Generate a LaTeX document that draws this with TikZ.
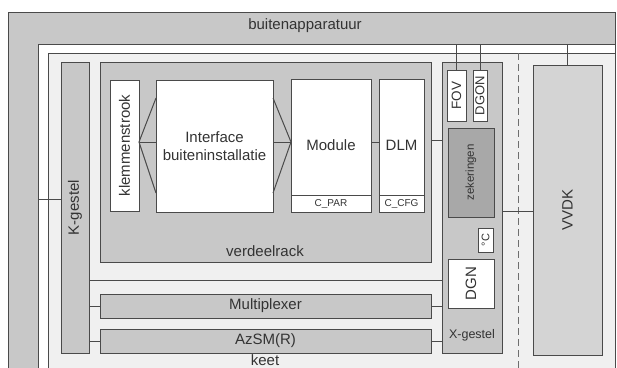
\documentclass[tikz,border=0pt]{standalone}
\usepackage{fontspec}
\setmainfont{Liberation Sans}
\usetikzlibrary{positioning,calc}
\definecolor{rackc}{HTML}{C8C8C8}
\definecolor{keetc}{HTML}{F0F0F0}
\definecolor{vvdkc}{HTML}{D4D4D4}
\definecolor{zekc}{HTML}{A8A8A8}
\definecolor{linec}{HTML}{4A4A4A}
\definecolor{textc}{HTML}{333333}
\newcommand{\fs}[1]{\fontsize{#1}{#1}\selectfont}
\tikzset{
  box/.style={draw=linec, line width=1pt, outer sep=0pt, inner sep=0pt,
              align=center, text=textc, font=\fontsize{15}{18}\selectfont},
  gbox/.style={box, fill=rackc},
  wbox/.style={box, fill=white},
  lbl/.style={text=textc, font=\fs{15}, inner sep=0pt},
  wire/.style={draw=linec, line width=1pt},
}

\begin{document}
\begin{tikzpicture}[x=1pt, y=-1pt]
  \useasboundingbox (0,0) rectangle (617,367);
  \clip (0,0) rectangle (617,367);

  % enclosures
  \node[gbox, minimum width=607, minimum height=408] (buiten) at (311.5,216) {};
  \node[wbox, minimum width=577, minimum height=376] (shell) at (326.5,232) {};
  \node[box, fill=keetc, minimum width=567, minimum height=367] (keet) at (331.5,236.5) {};
  \node[lbl] at (305,26) {buitenapparatuur};
  \node[lbl] at (265,360) {keet};

  % racks
  \node[gbox, minimum width=28, minimum height=291] (kg) at (75,207.5) {\rotatebox{90}{K-gestel}};
  \node[gbox, minimum width=331, minimum height=200] (vr) at (265.5,162) {};
  \node[lbl] at (265,251) {verdeelrack};
  \node[gbox, minimum width=60, minimum height=291] (xg) at (472,207.5) {};
  \node[lbl, font=\fs{12.5}] at (472,335) {X-gestel};
  \node[box, fill=vvdkc, minimum width=69, minimum height=290] (vvdk) at (567.5,210) {\rotatebox{90}{VVDK}};
  \node[gbox, minimum width=331, minimum height=24] (mux) at (265.5,306) {Multiplexer};
  \node[gbox, minimum width=331, minimum height=24] (azsm) at (265.5,341) {AzSM(R)};

  % verdeelrack contents
  \node[wbox, minimum width=29, minimum height=131] (klem) at (124.5,145.5) {\rotatebox{90}{klemmenstrook}};
  \node[wbox, minimum width=117, minimum height=132] (intf) at (214.5,146) {Interface\\buiteninstallatie};
  \node[wbox, minimum width=80, minimum height=133] (mod) at (331,145.5) {Module};
  \node[wbox, minimum width=45, minimum height=133] (dlm) at (401.5,145.5) {DLM};
  \draw[wire] (mod.west |- 0,195) -- (mod.east |- 0,195);
  \draw[wire] (dlm.west |- 0,195) -- (dlm.east |- 0,195);
  \node[lbl, font=\fs{10}] at (331,203.5) {C\_PAR};
  \node[lbl, font=\fs{10}] at (401.5,203.5) {C\_CFG};

  % X-gestel contents
  \node[wbox, font=\fs{13.5}, minimum width=19, minimum height=51] (fov) at (456.5,95.5) {\rotatebox{90}{FOV}};
  \node[wbox, font=\fs{13}, minimum width=14, minimum height=51] (dgon) at (480,95.5) {\rotatebox{90}{DGON}};
  \node[box, fill=zekc, font=\fs{11.5}, minimum width=46, minimum height=89] (zek) at (471,172.5) {\rotatebox{90}{zekeringen}};
  \node[wbox, font=\fs{11}, minimum width=15, minimum height=24] (temp) at (485.5,240) {\rotatebox{90}{°C}};
  \node[wbox, minimum width=46, minimum height=49] (dgn) at (471,283.5) {\rotatebox{90}{DGN}};

  % keet / VVDK boundary
  \draw[linec!80, line width=1pt, dash pattern=on 7pt off 4pt] (518,53) -- (518,370);

  % connections
  \coordinate (hub) at (0,142);
  \draw[wire] (shell.west |- 0,199) -- (kg.west |- 0,199);
  \draw[wire] (fov.north) -- (fov.north |- shell.north);
  \draw[wire] (dgon.north) -- (dgon.north |- shell.north);
  \draw[wire] (vvdk.north) -- (vvdk.north |- shell.north);
  \draw[wire] (klem.east |- hub) -- (intf.west |- hub);
  \draw[wire] (intf.west |- 0,98) -- (klem.east |- hub) -- (intf.west |- 0,193);
  \draw[wire] (intf.east |- hub) -- (mod.west |- hub);
  \draw[wire] (intf.east |- 0,98) -- (mod.west |- hub) -- (intf.east |- 0,193);
  \draw[wire] (mod.east |- hub) -- (dlm.west |- hub);
  \draw[wire] (vr.east |- 0,140) -- (xg.west |- 0,140);
  \draw[wire] (kg.east |- 0,280) -- (xg.west |- 0,280);
  \draw[wire] (kg.east |- mux.west) -- (mux.west);
  \draw[wire] (mux.east) -- (xg.west |- mux.east);
  \draw[wire] (kg.east |- azsm.west) -- (azsm.west);
  \draw[wire] (azsm.east) -- (xg.west |- azsm.east);
  \draw[wire] (xg.east |- 0,211) -- (vvdk.west |- 0,211);
\end{tikzpicture}
\end{document}
